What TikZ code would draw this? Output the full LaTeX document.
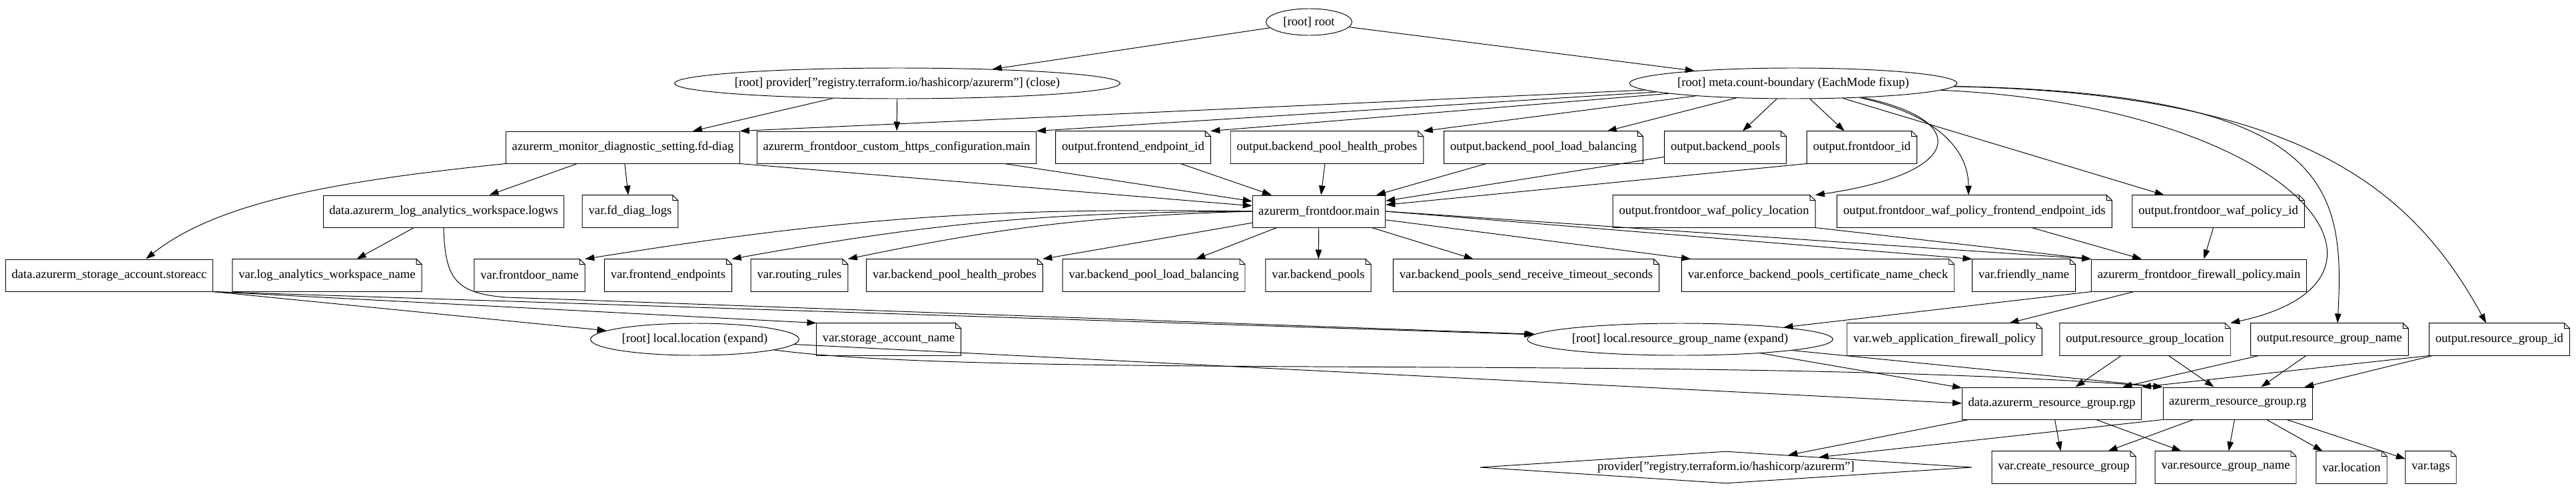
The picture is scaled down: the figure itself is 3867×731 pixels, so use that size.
\documentclass[tikz,border=0pt]{standalone}
\usepackage{fontspec}
\setmainfont{Liberation Serif}
\usetikzlibrary{arrows.meta,shapes.geometric}
\tikzstyle{res}=[rectangle, draw, inner xsep=1.8mm, minimum height=9.6mm]
\tikzstyle{notebox}=[rectangle, inner xsep=1.8mm, minimum height=9.6mm,
 append after command={\pgfextra{%
  \draw (\tikzlastnode.south west) -- (\tikzlastnode.north west)
   -- ([xshift=-1.6mm]\tikzlastnode.north east)
   -- ([yshift=-1.6mm]\tikzlastnode.north east)
   -- (\tikzlastnode.south east) -- cycle
   ([xshift=-1.6mm]\tikzlastnode.north east) |- ([yshift=-1.6mm]\tikzlastnode.north east);}}]
\tikzstyle{expand}=[ellipse, draw, inner sep=0pt]
\tikzstyle{prov}=[diamond, draw, inner sep=0pt, aspect=15]
\tikzstyle{dep}=[-{Triangle[length=2.8mm,width=1.9mm]}]

\begin{document}
\begin{tikzpicture}[x=0.2mm, y=-0.2mm, line width=0.55pt, font=\fontsize{10.6}{12.7}\selectfont]
	\useasboundingbox (0,0) rectangle (3867,731);

	% root and boundary nodes
	\node[expand, minimum width=25.8mm, minimum height=8mm] (root) at (1965,33) {[root] root};
	\node[expand, inner xsep=-1.5mm, minimum width=132.2mm, minimum height=9.2mm] (provclose) at (1347,125) {[root] provider["registry.terraform.io/hashicorp/azurerm"] (close)};
	\node[expand, minimum width=96.4mm, minimum height=9.2mm] (meta) at (2692,125) {[root] meta.count-boundary (EachMode fixup)};

	% first row
	\node[res] (fddiag) at (935,221) {azurerm\_monitor\_diagnostic\_setting.fd-diag};
	\node[res] (customhttps) at (1346,221) {azurerm\_frontdoor\_custom\_https\_configuration.main};
	\foreach \xpos/\lab/\txt in {1701/outfeid/frontend\_endpoint\_id, 1992/outhp/backend\_pool\_health\_probes, 2317/outlb/backend\_pool\_load\_balancing, 2590/outbp/backend\_pools, 2795/outfdid/frontdoor\_id}
		\node[notebox] (\lab) at (\xpos,221) {output.\txt};

	% second row
	\node[res] (logws) at (666,317) {data.azurerm\_log\_analytics\_workspace.logws};
	\node[notebox] (vfddiag) at (946,317) {var.fd\_diag\_logs};
	\node[res] (fdmain) at (1980,317) {azurerm\_frontdoor.main};
	\foreach \xpos/\lab/\txt in {2573/outwafloc/frontdoor\_waf\_policy\_location, 2964/outwaffe/frontdoor\_waf\_policy\_frontend\_endpoint\_ids, 3330/outwafid/frontdoor\_waf\_policy\_id}
		\node[notebox] (\lab) at (\xpos,317) {output.\txt};

	% third row
	\node[res] (storeacc) at (164,413) {data.azurerm\_storage\_account.storeacc};
	\foreach \xpos/\lab/\txt in {491/vlawname/log\_analytics\_workspace\_name, 795/vfdname/frontdoor\_name, 1003/vfe/frontend\_endpoints, 1200/vrr/routing\_rules, 1433/vhp/backend\_pool\_health\_probes, 1732/vlb/backend\_pool\_load\_balancing, 1979/vbp/backend\_pools, 2291/vtimeout/backend\_pools\_send\_receive\_timeout\_seconds, 2729/venforce/enforce\_backend\_pools\_certificate\_name\_check, 3038/vfriendly/friendly\_name}
		\node[notebox] (\lab) at (\xpos,413) {var.\txt};
	\node[res] (fwpolicy) at (3301,413) {azurerm\_frontdoor\_firewall\_policy.main};

	% fourth row
	\node[expand, minimum width=62.6mm, minimum height=9.6mm] (loclocation) at (1043,509) {[root] local.location (expand)};
	\node[notebox] (vsaname) at (1334,509) {var.storage\_account\_name};
	\node[expand, minimum width=90.8mm, minimum height=9.6mm] (locrgname) at (2522,509) {[root] local.resource\_group\_name (expand)};
	\node[notebox] (vwaf) at (2919,509) {var.web\_application\_firewall\_policy};
	\foreach \xpos/\lab/\txt in {3220/outrgloc/resource\_group\_location, 3497/outrgname/resource\_group\_name, 3752/outrgid/resource\_group\_id}
		\node[notebox] (\lab) at (\xpos,509) {output.\txt};

	% resource groups
	\node[res] (rgp) at (3080,605) {data.azurerm\_resource\_group.rgp};
	\node[res] (rg) at (3359,605) {azurerm\_resource\_group.rg};

	% last row
	\node[prov, minimum width=147.6mm, minimum height=9.6mm] (provider) at (2591,701) {provider["registry.terraform.io/hashicorp/azurerm"]};
	\foreach \xpos/\lab/\txt in {3098/vcreaterg/create\_resource\_group, 3341/vrgname/resource\_group\_name, 3530/vlocation/location, 3649/vtags/tags}
		\node[notebox] (\lab) at (\xpos,701) {var.\txt};

	% straight dependencies
	\foreach \from/\to in {root/provclose, root/meta, provclose/fddiag, provclose/customhttps, meta/outlb, meta/outbp, meta/outfdid, meta/outwafid, customhttps/fdmain, outfeid/fdmain, outhp/fdmain, outlb/fdmain, outbp/fdmain, fddiag/logws, fddiag/vfddiag, logws/vlawname, fdmain/vlb, fdmain/vbp, fdmain/vtimeout, fdmain/venforce, outwaffe/fwpolicy, outwafid/fwpolicy, fwpolicy/vwaf, outrgloc/rgp, outrgloc/rg, outrgname/rgp, outrgname/rg, outrgid/rg, locrgname/rgp, rgp/provider, rgp/vcreaterg, rgp/vrgname, rg/vcreaterg, rg/vrgname, rg/vlocation, rg/vtags}
		\draw[dep] (\from) -- (\to);

	\foreach \to in {fddiag, customhttps, outfeid, outhp}
		\draw[dep] (meta) -- (\to.north east);
	\foreach \to in {vfdname, vfe, vrr}
		\draw[dep] (fdmain.west) to[bend right=5] (\to.north east);

	\draw[dep] (fddiag.south east) -- (fdmain);
	\draw[dep] (outfdid.south west) -- (fdmain);
	\draw[dep] (fdmain) -- (vhp.north east);
	\draw[dep] (fdmain.east) -- (vfriendly.north west);
	\draw[dep] (fdmain.east) -- (fwpolicy.north west);
	\draw[dep] (outwafloc.south east) -- (fwpolicy.north west);
	\draw[dep] (fwpolicy.south west) -- (locrgname);
	\draw[dep] (storeacc.south east) -- (loclocation);
	\draw[dep] (storeacc.south east) -- (vsaname.north west);
	\draw[dep] (storeacc.south east) -- (locrgname);
	\draw[dep] (outrgid.south west) -- (rgp.north east);
	\draw[dep] (locrgname) -- (rg.north west);
	\draw[dep] (loclocation) -- (rgp.west);
	\draw[dep] (rg.south west) -- (provider);

	% curved ones
	\draw[dep] (fddiag.south west) .. controls (520,270) and (330,300) .. ([xshift=11mm]storeacc.north);
	\draw[dep] (logws.south) .. controls (668,420) and (685,440) .. (760,446) -- (locrgname);
	\draw[dep] (loclocation) .. controls (1500,570) and (2600,530) .. (rg.north west);
	\draw[dep] (meta) .. controls (2960,180) and (2950,260) .. (outwafloc.north east);
	\draw[dep] (meta) .. controls (2900,170) and (2955,220) .. ([xshift=-1.8mm]outwaffe.north);
	\draw[dep] (meta) .. controls (3450,160) and (3650,420) .. (outrgloc.north east);
	\draw[dep] (meta) .. controls (3500,140) and (3520,280) .. ([xshift=2.4mm]outrgname.north);
	\draw[dep] (meta) .. controls (3450,140) and (3620,280) .. ([xshift=-4mm]outrgid.north);
\end{tikzpicture}
\end{document}
